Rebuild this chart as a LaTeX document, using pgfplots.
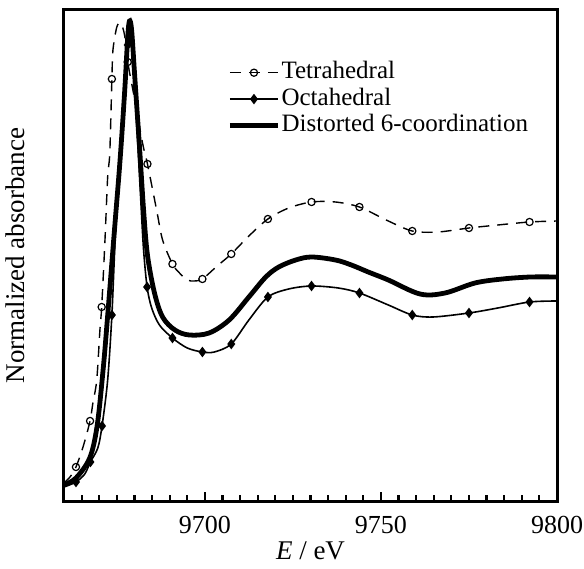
\documentclass[border=0pt]{standalone}
\usepackage{fontspec}
\setmainfont{Liberation Serif}
\usepackage{pgfplots}
\pgfplotsset{compat=1.18}
\begin{document}
\begin{tikzpicture}[font=\fontsize{13}{15.6}\selectfont]
\begin{axis}[
  scale only axis,
  width=246.5pt, height=245.5pt,
  xmin=9660, xmax=9800, ymin=0, ymax=491,
  xtick={9700,9750,9800},
  minor xtick={9665,9670,...,9795},
  ytick=\empty,
  xtick pos=bottom,
  tick align=inside,
  major tick length=4.5pt, minor tick length=2.8pt,
  every tick/.style={black, line width=1.1pt},
  axis line style={line width=1.5pt},
  /pgf/number format/assume math mode=true,
  /pgf/number format/set thousands separator={},
  xticklabel style={yshift=-4pt, font=\fontsize{13}{15.6}\selectfont},
  xlabel={\textit{E} / eV},
  xlabel style={yshift=3pt, font=\fontsize{13.5}{16}\selectfont},
  ylabel={Normalized absorbance},
  ylabel style={at={(axis description cs:-0.065,0.5)}, anchor=south, font=\fontsize{13.5}{16}\selectfont},
  legend cell align=left,
  legend style={draw=none, fill=none, at={(axis description cs:0.331,0.90)}, anchor=north west,
    row sep=0pt, inner sep=0pt, font=\fontsize{12.5}{15}\selectfont,
    nodes={inner sep=0.6pt, text height=9pt, text depth=3pt}},
  legend image code/.code={\draw[#1, mark indices={2}] plot coordinates {(0pt,0pt)(12pt,0pt)(24pt,0pt)};},
]
% Tetrahedral
\addplot[black, line width=0.7pt, dash pattern=on 5.5pt off 4pt, smooth, tension=0.5,
  mark=o, mark size=1.8pt, mark options={solid, line width=0.6pt},
  mark indices={3,5,9,13,18,21,24,28,30,32,34,36,38,40,42}] coordinates {
(9660.0,18) (9661.7,24) (9663.4,34) (9665.4,54) (9667.4,80) (9668.2,98)
(9669.3,121) (9670.2,171) (9670.7,194) (9671.6,258) (9672.4,324) (9673.0,348)
(9673.6,422) (9673.9,451) (9675.0,474) (9676.1,478) (9677.2,466) (9678.1,439)
(9680.1,401) (9682.3,358) (9683.7,337) (9686.3,291) (9688.0,261) (9690.8,237)
(9692.8,228) (9695.0,221) (9697.0,220) (9699.3,222) (9703.5,235) (9707.5,247)
(9712.5,265) (9717.9,282) (9723.8,293) (9730.3,299) (9737.1,299) (9743.9,294)
(9751.5,281) (9758.9,270) (9766.2,269) (9775.0,273) (9783.2,276) (9792.2,279)
(9800.0,280)
};
\addlegendentry{Tetrahedral}
% Octahedral
\addplot[black, line width=0.8pt, smooth, tension=0.5,
  mark=diamond*, mark size=2pt,
  mark indices={2,4,6,8,12,18,21,23,25,27,29,31,33,35,37}] coordinates {
(9660.0,14) (9663.4,19) (9665.9,27) (9667.5,39) (9669.6,53) (9670.8,75)
(9672.4,121) (9673.6,186) (9674.7,274) (9676.1,341) (9677.2,408) (9678.1,456)
(9678.7,479) (9679.5,451) (9680.6,381) (9681.8,301) (9682.6,251) (9683.6,214)
(9684.9,193) (9687.1,176) (9690.8,163) (9695.0,153) (9699.3,149) (9702.7,149)
(9707.5,157) (9712.5,181) (9717.9,204) (9723.8,212) (9730.3,215) (9737.9,213)
(9743.9,208) (9752.1,196) (9758.9,186) (9764.8,184) (9775.0,188) (9783.2,193)
(9792.2,199) (9800.0,200)
};
\addlegendentry{Octahedral}
% Distorted 6-coordination
\addplot[black, line width=2.4pt, smooth, tension=0.55, no marks] coordinates {
(9660.0,16) (9663.4,23) (9667.3,43) (9669.4,75) (9671.1,131) (9672.3,181)
(9674.4,274) (9675.9,340) (9677.2,408) (9678.1,464) (9678.6,480) (9679.2,471)
(9680.1,424) (9681.5,351) (9682.6,291) (9683.7,246) (9685.7,208) (9688.0,184)
(9691.5,171) (9695.6,166) (9701.2,168) (9706.9,181) (9712.5,204) (9717.3,224)
(9721.0,234) (9725.8,241) (9730.3,244) (9737.1,241) (9741.6,236) (9746.4,229)
(9752.1,221) (9761.1,207) (9768.2,208) (9776.7,218) (9784.5,222) (9792.5,224)
(9800.0,224)
};
\addlegendentry{Distorted 6-coordination}
\end{axis}
\pgfresetboundingbox
\path ([shift={(-32pt,-33.5pt)}]current axis.south west) rectangle ([shift={(13.5pt,5pt)}]current axis.north east);
\end{tikzpicture}
\end{document}
